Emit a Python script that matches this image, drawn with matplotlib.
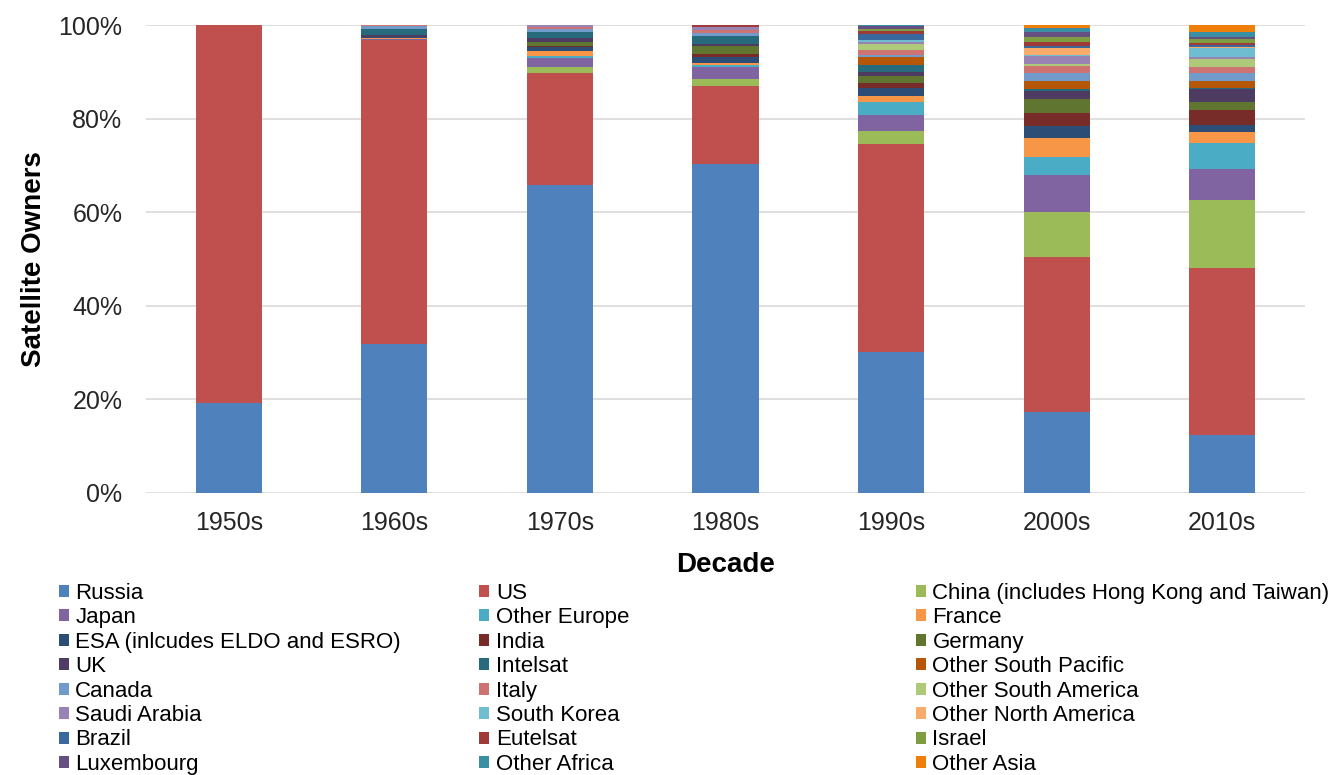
import numpy as np
import matplotlib.pyplot as plt
from matplotlib.patches import Patch

plt.rcParams['font.family'] = ['Liberation Sans', 'DejaVu Sans']

decades = ["1950s", "1960s", "1970s", "1980s", "1990s", "2000s", "2010s"]

owners = ["Russia", "US", "China (includes Hong Kong and Taiwan)", "Japan",
          "Other Europe", "France", "ESA (inlcudes ELDO and ESRO)", "India",
          "Germany", "UK", "Intelsat", "Other South Pacific", "Canada", "Italy",
          "Other South America", "Saudi Arabia", "South Korea",
          "Other North America", "Brazil", "Eutelsat", "Israel", "Luxembourg",
          "Other Africa", "Other Asia"]

# percent share per decade, same order as owners
russia      = [19.2, 31.8, 65.8, 70.1, 30.1, 17.3, 12.4]
us          = [80.8, 64.9, 23.9, 16.5, 44.6, 33.1, 35.9]
china       = [0, 0, 1.3, 1.6, 2.7, 9.6, 14.7]
japan       = [0, 0.3, 1.8, 2.4, 3.4, 7.9, 6.6]
other_eur   = [0, 0, 0.4, 0.5, 2.8, 3.9, 5.7]
france      = [0, 0.2, 1.1, 0.5, 1.4, 4.0, 2.3]
esa         = [0, 0.2, 0.9, 1.2, 1.6, 2.6, 1.6]
india       = [0, 0, 0.2, 0.7, 1.0, 2.8, 3.1]
germany     = [0, 0, 0.8, 1.6, 1.6, 2.9, 1.7]
uk          = [0, 0.4, 0.9, 0.4, 0.9, 1.9, 2.8]
intelsat    = [0, 1.3, 1.4, 1.8, 1.5, 0.3, 0.3]
other_sp    = [0, 0, 0, 0, 1.6, 1.8, 1.4]
canada      = [0, 0.6, 0.5, 0.7, 0.4, 1.6, 1.8]
italy       = [0, 0.2, 0.4, 0.6, 1.1, 1.6, 1.2]
other_sa    = [0, 0, 0, 0, 1.4, 0.4, 1.9]
saudi       = [0, 0, 0.5, 0.6, 0.4, 1.7, 0.3]
s_korea     = [0, 0, 0, 0, 0.3, 0.3, 1.9]
other_na    = [0, 0, 0, 0, 0.2, 1.4, 0.3]
brazil      = [0, 0, 0, 0, 1.1, 0.4, 0.5]
eutelsat    = [0, 0, 0, 0.4, 0.7, 0.9, 0.3]
israel      = [0, 0, 0, 0, 0.5, 1.1, 0.9]
luxembourg  = [0, 0, 0, 0, 0.5, 1.1, 0.4]
other_af    = [0, 0, 0, 0, 0.3, 0.8, 1.2]
other_asia  = [0, 0, 0, 0, 0, 0.6, 1.4]

series = [russia, us, china, japan, other_eur, france, esa, india, germany, uk,
          intelsat, other_sp, canada, italy, other_sa, saudi, s_korea, other_na,
          brazil, eutelsat, israel, luxembourg, other_af, other_asia]

colors = ["#4F81BD", "#C0504D", "#9BBB59", "#8064A2", "#4BACC6", "#F79646",
          "#2C4D75", "#772C2A", "#5F7530", "#4D3B62", "#276A7C", "#B65708",
          "#729ACA", "#CD7371", "#AFC97A", "#9983B5", "#6FBDD1", "#F9AB6B",
          "#3A679C", "#9E3B38", "#7E9C40", "#664F82", "#3A8FA3", "#F07F09"]

data = np.array(series, dtype=float)
data = data / data.sum(axis=0) * 100  # 100% stacked

fig = plt.figure(figsize=(13.31, 7.75), dpi=100)
ax = fig.add_axes([0.1097, 0.3639, 0.8708, 0.6038])

x = np.arange(len(decades))
bottom = np.zeros(len(decades))
handles = []
for vals, col, name in zip(data, colors, owners):
    ax.bar(x, vals, 0.4, bottom=bottom, color=col, zorder=3)
    bottom += vals
    handles.append(Patch(facecolor=col, label=name))

ax.set_xlim(-0.5, len(decades) - 0.5)
ax.set_ylim(0, 100)
ax.set_yticks(range(0, 101, 20))
ax.set_yticklabels([f"{v}%" for v in range(0, 101, 20)])
ax.set_xticks(x)
ax.set_xticklabels(decades)
ax.tick_params(length=0, labelsize=18, colors="#262626")
ax.tick_params(axis="y", pad=17)
ax.tick_params(axis="x", pad=13)
ax.grid(axis="y", color="#D9D9D9", linewidth=1.2, zorder=0)
for s in ax.spines.values():
    s.set_visible(False)

ax.set_xlabel("Decade", fontsize=20, fontweight="bold", labelpad=12)
ax.set_ylabel("Satellite Owners", fontsize=20, fontweight="bold", labelpad=8)

# legend: 3 columns filled row by row
col_x = [0.044, 0.360, 0.688]
for c in range(3):
    hs = handles[c::3]
    fig.legend(handles=hs, labels=[h.get_label() for h in hs], loc="upper left",
               bbox_to_anchor=(col_x[c], 0.248), frameon=False, fontsize=16,
               handlelength=0.45, handleheight=0.45, handletextpad=0.3,
               labelspacing=0.155, borderaxespad=0, borderpad=0)

fig.savefig("out.png", dpi=100)
